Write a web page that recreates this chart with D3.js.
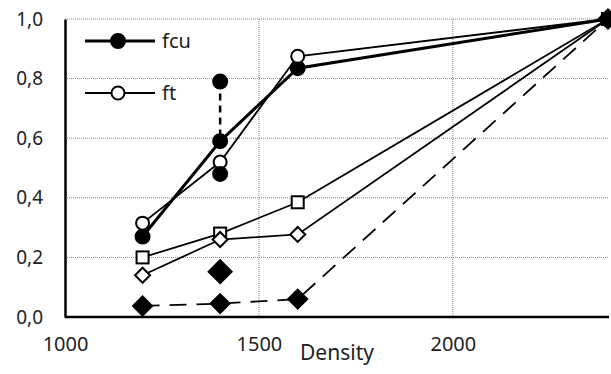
<!DOCTYPE html>
<html lang="en">
<head>
<meta charset="UTF-8">
<title>Density chart</title>
<style>
  body { margin: 0; background: #fff; }
  text { font-family: "Noto Sans", "DejaVu Sans", sans-serif; fill: #222; }
</style>
</head>
<body>
<div id="chart"></div>
<script src="https://d3js.org/d3.v7.min.js"></script>
<script>

// data
var density = [1200, 1400, 1600, 2400];
var fcu = [0.27, 0.59, 0.835, 1.0];
var ft = [0.315, 0.52, 0.875, 1.0];
var squares = [0.2, 0.28, 0.385, 1.0];
var openDiamonds = [0.14, 0.26, 0.277, 1.0];
var filledDiamonds = [0.037, 0.045, 0.06, 1.0];
// extra single points at 1400
var fcuExtraX = [1400, 1400];
var fcuExtraY = [0.79, 0.48];
var diamondExtraX = [1400];
var diamondExtraY = [0.152];
var xTicks = [1000, 1500, 2000];
var yTicks = [0, 0.2, 0.4, 0.6, 0.8, 1.0];

var width = 611, height = 374;

var svg = d3.select("#chart").append("svg")
    .attr("width", width)
    .attr("height", height);

var x = d3.scaleLinear().domain([1000, 2400]).range([65, 608]);
var y = d3.scaleLinear().domain([0, 1]).range([317, 19]);

// gridlines
svg.append("g").selectAll("line")
    .data(yTicks.filter(function(d) { return d > 0; }))
    .enter().append("line")
    .attr("x1", x(1000)).attr("x2", 609)
    .attr("y1", function(d) { return y(d); })
    .attr("y2", function(d) { return y(d); })
    .attr("stroke", "#888").attr("stroke-width", 1)
    .attr("stroke-dasharray", "1,1");

svg.append("g").selectAll("line")
    .data(xTicks.filter(function(d) { return d > 1000; }))
    .enter().append("line")
    .attr("x1", function(d) { return x(d); })
    .attr("x2", function(d) { return x(d); })
    .attr("y1", y(1)).attr("y2", y(0))
    .attr("stroke", "#888").attr("stroke-width", 1)
    .attr("stroke-dasharray", "1,1");

// axes
var yAxis = svg.append("g")
    .attr("transform", "translate(" + x(1000) + ",0)")
    .call(d3.axisLeft(y).tickValues(yTicks).tickSize(0).tickPadding(22)
        .tickFormat(function(d) { return d3.format(".1f")(d).replace(".", ","); }));
yAxis.select(".domain").attr("stroke", "#000").attr("stroke-width", 2.5);
yAxis.selectAll("text").style("font-size", "19px").style("font-family", "Noto Sans");

var xAxis = svg.append("g")
    .attr("transform", "translate(0," + y(0) + ")")
    .call(d3.axisBottom(x).tickValues(xTicks).tickSize(0).tickPadding(20)
        .tickFormat(d3.format("d")));
xAxis.select(".domain").attr("stroke", "#000").attr("stroke-width", 2.5)
    .attr("d", "M" + x(1000) + ",0H609");
xAxis.selectAll("text").style("font-size", "20px").style("font-family", "Noto Sans");

svg.append("text")
    .attr("x", 337).attr("y", 360)
    .attr("text-anchor", "middle")
    .style("font-size", "21px")
    .text("Density");

// line series
function pts(ys) {
    return density.map(function(d, i) { return [d, ys[i]]; });
}
var line = d3.line()
    .x(function(d) { return x(d[0]); })
    .y(function(d) { return y(d[1]); });

// vertical dashed link between fcu points at 1400
svg.append("line")
    .attr("x1", x(fcuExtraX[0])).attr("x2", x(fcuExtraX[0]))
    .attr("y1", y(fcuExtraY[0])).attr("y2", y(fcu[1]))
    .attr("stroke", "#000").attr("stroke-width", 2.5)
    .attr("stroke-dasharray", "7,5");

var series = [
    { v: fcu, w: 3, dash: null, mark: "circle", fill: "#000", size: 7 },
    { v: ft, w: 1.8, dash: null, mark: "circle", fill: "#fff", size: 6.5 },
    { v: squares, w: 1.8, dash: null, mark: "square", fill: "#fff", size: 12 },
    { v: openDiamonds, w: 1.8, dash: null, mark: "diamond", fill: "#fff", size: 15 },
    { v: filledDiamonds, w: 1.8, dash: "17,10", mark: "diamond", fill: "#000", size: 19 }
];

function drawMarks(g, data, s) {
    if (s.mark === "circle") {
        g.selectAll("circle").data(data).enter().append("circle")
            .attr("cx", function(d) { return x(d[0]); })
            .attr("cy", function(d) { return y(d[1]); })
            .attr("r", s.size)
            .attr("fill", s.fill).attr("stroke", "#000").attr("stroke-width", 2);
    } else if (s.mark === "square") {
        g.selectAll("rect").data(data).enter().append("rect")
            .attr("x", function(d) { return x(d[0]) - s.size / 2; })
            .attr("y", function(d) { return y(d[1]) - s.size / 2; })
            .attr("width", s.size).attr("height", s.size)
            .attr("fill", s.fill).attr("stroke", "#000").attr("stroke-width", 2);
    } else {
        var h = s.size / 2;
        g.selectAll("path").data(data).enter().append("path")
            .attr("d", "M0," + (-h) + "L" + h + ",0L0," + h + "L" + (-h) + ",0Z")
            .attr("transform", function(d) { return "translate(" + x(d[0]) + "," + y(d[1]) + ")"; })
            .attr("fill", s.fill).attr("stroke", "#000").attr("stroke-width", 2);
    }
}

series.forEach(function(s) {
    svg.append("path")
        .datum(pts(s.v))
        .attr("d", line)
        .attr("fill", "none")
        .attr("stroke", "#000")
        .attr("stroke-width", s.w)
        .attr("stroke-dasharray", s.dash);
});

series.forEach(function(s) {
    drawMarks(svg.append("g"), pts(s.v), s);
});

// extra single points
drawMarks(svg.append("g"),
    fcuExtraX.map(function(d, i) { return [d, fcuExtraY[i]]; }),
    { mark: "circle", fill: "#000", size: 7 });
drawMarks(svg.append("g"),
    diamondExtraX.map(function(d, i) { return [d, diamondExtraY[i]]; }),
    { mark: "diamond", fill: "#000", size: 23 });

// legend
var legend = [
    { name: "fcu", w: 3, fill: "#000", r: 7, y: 41 },
    { name: "ft", w: 1.8, fill: "#fff", r: 6.5, y: 93 }
];
var lg = svg.append("g").selectAll("g").data(legend).enter().append("g");
lg.append("line")
    .attr("x1", 85).attr("x2", 155)
    .attr("y1", function(d) { return d.y; }).attr("y2", function(d) { return d.y; })
    .attr("stroke", "#000").attr("stroke-width", function(d) { return d.w; });
lg.append("circle")
    .attr("cx", 118).attr("cy", function(d) { return d.y; })
    .attr("r", function(d) { return d.r; })
    .attr("fill", function(d) { return d.fill; })
    .attr("stroke", "#000").attr("stroke-width", 2);
lg.append("text")
    .attr("x", 162).attr("y", function(d) { return d.y + 7; })
    .style("font-size", "20px")
    .text(function(d) { return d.name; });

</script>
</body>
</html>
